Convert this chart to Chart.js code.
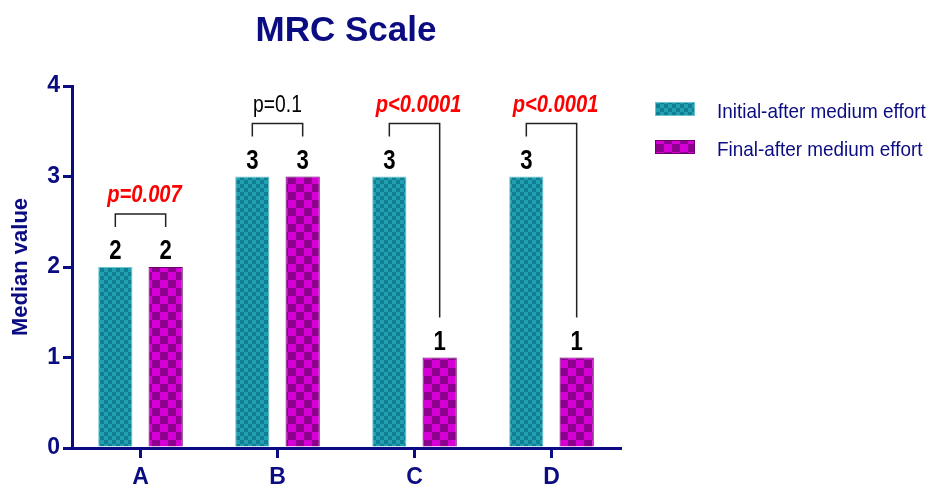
<!DOCTYPE html>
<html>
<head>
<meta charset="utf-8">
<script src="https://cdn.jsdelivr.net/npm/chart.js@4.4.0/dist/chart.umd.min.js"></script>
<style>
  html, body { margin: 0; padding: 0; background: #fff; overflow: hidden; }
  #wrap { width: 929px; height: 487px; }
</style>
</head>
<body>
<div id="wrap"><canvas id="chart"></canvas></div>
<script>
// data
var categories = ['A', 'B', 'C', 'D'];
var initialValues = [2, 3, 3, 3];
var finalValues = [2, 3, 1, 1];
var pLabels = ['p=0.007', 'p=0.1', 'p<0.0001', 'p<0.0001'];
var pSignificant = [true, false, true, true];
var seriesNames = ['Initial-after medium effort', 'Final-after medium effort'];

var navy = '#0c0c82';
var wide = "'Liberation Sans', Arial, sans-serif";

var canvas = document.getElementById('chart');
var ctx = canvas.getContext('2d');

// checkered fills like the original
function checker(light, dark, size) {
  var cv = document.createElement('canvas');
  cv.width = size * 2;
  cv.height = size * 2;
  var g = cv.getContext('2d');
  g.fillStyle = light;
  g.fillRect(0, 0, size * 2, size * 2);
  g.fillStyle = dark;
  g.fillRect(0, 0, size, size);
  g.fillRect(size, size, size, size);
  return ctx.createPattern(cv, 'repeat');
}
var cyanFill = checker('#21a0b3', '#107f92', 4);
var magentaFill = checker('#d600d6', '#8e008e', 8);

// no narrow font installed, so squeeze the text horizontally
function narrowText(c, text, x, y, sx) {
  c.save();
  c.translate(x, y);
  c.scale(sx, 1);
  c.fillText(text, 0, 0);
  c.restore();
}

// value labels, p-value brackets and the legend
var annotations = {
  id: 'annotations',
  afterDatasetsDraw: function (chart) {
    var c = chart.ctx;
    var m0 = chart.getDatasetMeta(0), m1 = chart.getDatasetMeta(1);
    c.save();
    c.textBaseline = 'alphabetic';
    categories.forEach(function (cat, i) {
      var b0 = m0.data[i], b1 = m1.data[i];
      c.fillStyle = '#000';
      c.font = 'bold 27px ' + wide;
      c.textAlign = 'center';
      narrowText(c, String(initialValues[i]), b0.x, b0.y - 8, 0.82);
      narrowText(c, String(finalValues[i]), b1.x, b1.y - 8, 0.82);

      var leg0 = b0.y - 8 - 19 - 13;
      var leg1 = b1.y - 8 - 19 - 13;
      var top = Math.min(leg0, leg1) - 13;
      c.strokeStyle = '#222';
      c.lineWidth = 1.5;
      c.beginPath();
      c.moveTo(b0.x, leg0);
      c.lineTo(b0.x, top);
      c.lineTo(b1.x, top);
      c.lineTo(b1.x, leg1);
      c.stroke();

      var mid = (b0.x + b1.x) / 2;
      if (pSignificant[i]) {
        c.fillStyle = '#ff0000';
        c.font = 'italic bold 24px ' + wide;
        narrowText(c, pLabels[i], mid + 4, top - 12, 0.84);
      } else {
        c.fillStyle = '#000';
        c.font = '23px ' + wide;
        narrowText(c, pLabels[i], mid, top - 12, 0.84);
      }
    });

    // legend
    var lx = chart.chartArea.right + 35;
    var fills = [cyanFill, magentaFill];
    var borders = ['#6cc2ce', '#6a006a'];
    seriesNames.forEach(function (name, i) {
      var y = 102 + i * 38;
      c.fillStyle = fills[i];
      c.fillRect(lx, y, 40, 14);
      c.strokeStyle = borders[i];
      c.lineWidth = 1;
      c.strokeRect(lx + 0.5, y + 0.5, 39, 13);
      c.fillStyle = navy;
      c.font = '21px ' + wide;
      c.textAlign = 'left';
      narrowText(c, name, lx + 62, y + 16, 0.9);
    });
    c.restore();
  }
};

new Chart(canvas, {
  type: 'bar',
  data: {
    labels: categories,
    datasets: [{
      label: seriesNames[0],
      data: initialValues,
      backgroundColor: cyanFill,
      borderColor: '#6cc2ce',
      borderWidth: 1
    }, {
      label: seriesNames[1],
      data: finalValues,
      backgroundColor: magentaFill,
      borderColor: '#6a006a',
      borderWidth: 1
    }]
  },
  options: {
    responsive: true,
    maintainAspectRatio: false,
    animation: false,
    categoryPercentage: 0.735,
    barPercentage: 0.68,
    layout: { padding: { left: 0, right: 309, top: 0, bottom: 0 } },
    plugins: {
      legend: { display: false },
      tooltip: { enabled: false },
      title: {
        display: true,
        text: 'MRC Scale',
        fullSize: false,
        color: navy,
        font: { family: wide, size: 35, weight: 'bold' },
        padding: { top: 10, bottom: 34 }
      }
    },
    scales: {
      x: {
        grid: { drawOnChartArea: false, offset: false, color: navy, lineWidth: 3, tickLength: 10 },
        border: { color: navy, width: 3 },
        ticks: { color: navy, font: { family: wide, size: 23, weight: 'bold' }, padding: 6 },
        afterFit: function (s) { s.height = 39; }
      },
      y: {
        min: 0,
        max: 4,
        ticks: { stepSize: 1, color: navy, font: { family: wide, size: 23, weight: 'bold' }, padding: 3 },
        grid: { drawOnChartArea: false, color: navy, lineWidth: 3, tickLength: 9 },
        border: { color: navy, width: 3 },
        title: {
          display: true,
          text: 'Median value',
          color: navy,
          font: { family: wide, size: 22, weight: 'bold' },
          padding: { top: 8, bottom: 0 }
        },
        afterFit: function (s) { s.width = 72; }
      }
    }
  },
  plugins: [annotations]
});
</script>
</body>
</html>
